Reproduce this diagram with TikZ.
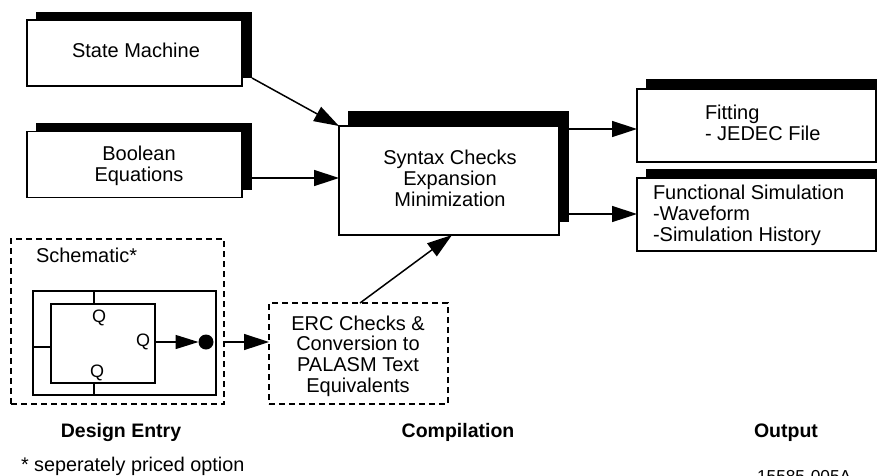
\documentclass[tikz,border=0pt]{standalone}
\usepackage{fontspec}
\setmainfont{Liberation Sans}
\usetikzlibrary{arrows.meta}
\tikzset{
  x=1pt,y=-1pt,
  frontbox/.style={draw=black,fill=white,line width=1.4pt,inner sep=0pt,outer sep=0pt},
  shadowbox/.style={draw=none,fill=black,inner sep=0pt,outer sep=0pt},
  dashbox/.style={draw=black,line width=1.4pt,dash pattern=on 6pt off 4pt,inner sep=0pt,outer sep=0pt},
  plainbox/.style={draw=black,line width=1.5pt,inner sep=0pt,outer sep=0pt},
  txt/.style={inner sep=0pt,outer sep=0pt,font=\fontsize{20}{20.6}\selectfont,align=center},
  txtl/.style={txt,align=left},
  head/.style={inner sep=0pt,outer sep=0pt,font=\bfseries\fontsize{19.5}{21}\selectfont},
  conn/.style={draw=black,line width=1.5pt,-{Triangle[length=25pt,width=16pt]}},
  wire/.style={draw=black,line width=1.5pt},
}
\begin{document}
\begin{tikzpicture}
\useasboundingbox (0,0) rectangle (877,475);
% State Machine
\node[shadowbox,minimum width=216pt,minimum height=66pt] (smS) at (144,45) {};
\node[frontbox,minimum width=215pt,minimum height=66pt] (sm) at (134.5,53) {};
\node[txt,anchor=base] (smT) at (136,57) {State Machine};
% Boolean
\node[shadowbox,minimum width=216pt,minimum height=67pt] (boS) at (144,156.5) {};
\node[frontbox,minimum width=215pt,minimum height=66pt] (bo) at (134.5,164.5) {};
\node[txt,anchor=base] (boT) at (139,181) {Boolean\\Equations};
% Central
\node[shadowbox,minimum width=221pt,minimum height=111pt] (ceS) at (458.5,166.5) {};
\node[frontbox,minimum width=220pt,minimum height=109pt] (ce) at (449,180.5) {};
\node[txt,anchor=base] (ceT) at (450,206) {Syntax Checks\\Expansion\\Minimization};
% Fitting
\node[shadowbox,minimum width=231pt,minimum height=30pt] (fiS) at (761.5,94) {};
\node[frontbox,minimum width=239pt,minimum height=73pt] (fi) at (756.5,125.5) {};
\node[txtl,anchor=base west] (fiT) at (705,140) {Fitting\\- JEDEC File};
% Functional
\node[shadowbox,minimum width=231pt,minimum height=30pt] (fuS) at (761.5,184) {};
\node[frontbox,minimum width=239pt,minimum height=73pt] (fu) at (756.5,214.5) {};
\node[txtl,anchor=base west] (fuT) at (653,241) {Functional Simulation\\-Waveform\\-Simulation History};
% Schematic
\node[dashbox,minimum width=213pt,minimum height=165pt] (sc) at (117.5,321.5) {};
\node[txtl,anchor=base west] (scT) at (36,262) {Schematic*};
\node[plainbox,minimum width=183pt,minimum height=104pt] (outer) at (124.5,343) {};
\node[plainbox,minimum width=104pt,minimum height=79pt] (inner) at (103,343.5) {};
\coordinate (topO) at (94,291); \coordinate (topI) at (94,304);
\coordinate (botO) at (94,395); \coordinate (botI) at (94,383);
\coordinate (lefO) at (33,347); \coordinate (lefI) at (51,347);
\draw[wire] (topO) -- (topI);
\draw[wire] (botI) -- (botO);
\draw[wire] (lefO) -- (lefI);
\node[txt,font=\fontsize{18}{20}\selectfont] (q1) at (99,318) {Q};
\node[txt,font=\fontsize{18}{20}\selectfont] (q2) at (143,342) {Q};
\node[txt,font=\fontsize{18}{20}\selectfont] (q3) at (97,373) {Q};
\node[circle,fill=black,draw=none,minimum size=15pt,inner sep=0pt,outer sep=0pt] (dot) at (206,342) {};
\coordinate (qOut) at (155,342);
\draw[draw=black,line width=1.5pt,-{Triangle[length=23pt,width=14pt]}] (qOut) -- (dot.west);
% ERC
\node[dashbox,minimum width=179pt,minimum height=101pt] (er) at (358.5,353.5) {};
\node[txt,anchor=base] (erT) at (358,392) {ERC Checks \&\\Conversion to\\PALASM Text\\Equivalents};
% Connectors
\coordinate (smOut) at (252,78);
\coordinate (boOut) at (252,178);
\coordinate (ceIn) at (339,178);
\coordinate (erOut) at (360,303);
\coordinate (ceBot) at (452,235);
\coordinate (ceOutA) at (569,129);
\coordinate (fiIn) at (637,129);
\coordinate (ceOutB) at (569,214);
\coordinate (fuIn) at (637,214);
\coordinate (scOut) at (224,342);
\coordinate (erIn) at (269,342);
\draw[conn] (smOut) -- (ce.north west);
\draw[conn] (boOut) -- (ceIn);
\draw[conn] (erOut) -- (ceBot);
\draw[conn] (ceOutA) -- (fiIn);
\draw[conn] (ceOutB) -- (fuIn);
\draw[conn] (scOut) -- (erIn);
% Labels
\node[head,anchor=base] (h1) at (121,437) {Design Entry};
\node[head,anchor=base] (h2) at (458,437) {Compilation};
\node[head,anchor=base] (h3) at (786,437) {Output};
\node[txtl,anchor=base west,font=\fontsize{19.8}{21}\selectfont] (note) at (21,471) {* seperately priced option};
\node[txtl,anchor=base west,font=\fontsize{17.3}{20}\selectfont] (num) at (757,482) {15585-005A};
\end{tikzpicture}
\end{document}
